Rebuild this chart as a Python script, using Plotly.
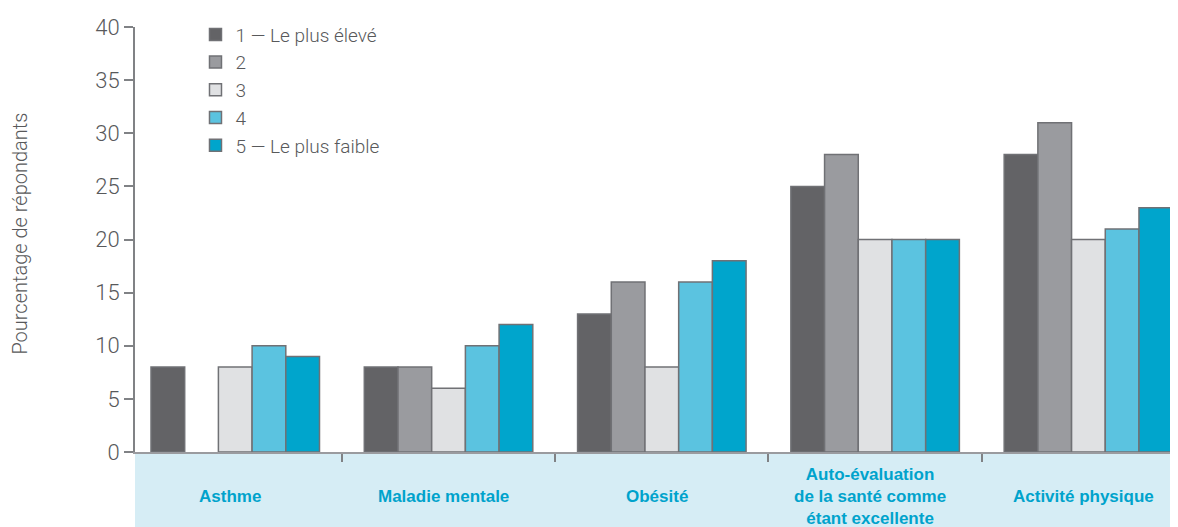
import plotly.graph_objects as go

categories = ["Asthme", "Maladie mentale", "Obésité",
              "Auto-évaluation<br>de la santé comme<br>étant excellente", "Activité physique"]
series_names = ["1 — Le plus élevé", "2", "3", "4", "5 — Le plus faible"]
values = [
    [8, 8, 13, 25, 28],
    [None, 8, 16, 28, 31],
    [8, 6, 8, 20, 20],
    [10, 10, 16, 20, 21],
    [9, 12, 18, 20, 23],
]
colors = ["#636366", "#9a9b9f", "#e0e1e3", "#5bc3e0", "#00a5cc"]
y_ticks = [0, 5, 10, 15, 20, 25, 30, 35, 40]

LIGHT = dict(family="Roboto, sans-serif", weight=300)
GREY = "#58595b"

fig = go.Figure()
for name, vals, col in zip(series_names, values, colors):
    fig.add_trace(go.Bar(
        x=categories, y=vals, name=name,
        marker=dict(color=col, line=dict(color="#707175", width=1.5)),
    ))

fig.update_layout(
    width=1178, height=527,
    margin=dict(l=127, r=8, t=12, b=83),
    paper_bgcolor="white", plot_bgcolor="white",
    barmode="group", bargap=0.21, bargroupgap=0,
    showlegend=True,
    legend=dict(x=0.058, y=1.027, xanchor="left", yanchor="top",
                font=dict(size=19, color=GREY, **LIGHT),
                bgcolor="rgba(0,0,0,0)", tracegroupgap=0, itemwidth=30),
    xaxis=dict(
        type="category", categoryorder="array", categoryarray=categories,
        range=[-0.47, 4.42], automargin=False,
        showticklabels=False, tickson="boundaries",
        ticks="outside", ticklen=8, tickcolor="#808285", tickwidth=1.5,
        showline=True, linecolor="#9a9b9f", linewidth=1.5,
        showgrid=False, zeroline=False,
    ),
    yaxis=dict(
        range=[0, 40], tickvals=y_ticks, automargin=False,
        ticks="outside", ticklen=9, tickcolor="#808285", tickwidth=1.5,
        showline=True, linecolor="#808285", linewidth=2,
        showgrid=False, zeroline=False,
        tickfont=dict(size=22, color=GREY, **LIGHT),
    ),
)

# category band
fig.add_shape(type="rect", xref="paper", yref="paper",
              x0=0, x1=1, y0=-83 / 432, y1=-0.003,
              fillcolor="#d6edf5", line=dict(width=0), layer="below")

for i, c in enumerate(categories):
    fig.add_annotation(x=i, y=-45 / 432, xref="x", yref="paper",
                       text="<b>" + c + "</b>", showarrow=False,
                       xanchor="center", yanchor="middle", xshift=-5,
                       font=dict(family="Liberation Sans, Arial, sans-serif", size=17, color="#00a3cc"))

fig.add_annotation(x=(20 - 135) / 1043, y=(452 - 230) / 432, xref="paper", yref="paper",
                   text="Pourcentage de répondants", textangle=-90, showarrow=False,
                   xanchor="center", yanchor="middle",
                   font=dict(size=20, color=GREY, **LIGHT))

fig.write_html("out.html")
